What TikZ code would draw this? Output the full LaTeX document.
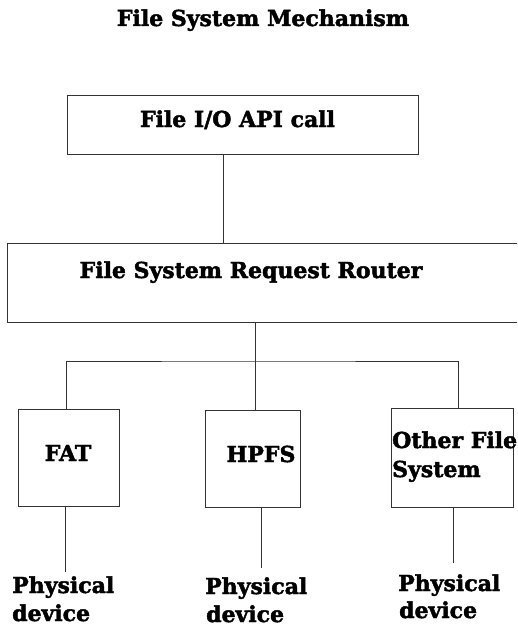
\documentclass[tikz,border=0pt]{standalone}
\usepackage{fontspec}
\setmainfont{DejaVu Serif}[BoldFeatures={FakeBold=2}]
\begin{document}
\begin{tikzpicture}[x=1pt,y=-1pt,
  box/.style={draw=black!80, line width=0.8pt, inner sep=0pt},
  conn/.style={draw=black!80, line width=0.8pt},
  txt/.style={font=\bfseries\fontsize{22}{29}\selectfont, inner sep=0pt}]
\clip (0,0) rectangle (517,626);
\fill[white] (0,0) rectangle (517,626);
% title
\node[txt, anchor=base] (title) at (263,26) {File System Mechanism};
% top box
\node[box, minimum width=351pt, minimum height=59pt] (top) at (242.5,124.5) {};
\node[txt, anchor=base] (toptxt) at (237.5,127) {File I/O API call};
% router
\node[box, minimum width=513pt, minimum height=79pt] (rt) at (263.5,282.5) {};
\node[txt, anchor=base] (rttxt) at (251,278) {File System Request Router};
% file systems
\node[box, minimum width=101pt, minimum height=97pt] (fat) at (68.5,457.5) {};
\node[txt, anchor=base] (fattxt) at (68,461) {FAT};
\node[box, minimum width=95pt, minimum height=97pt] (hp) at (252.5,458.5) {};
\node[txt, anchor=base] (hptxt) at (261,462) {HPFS};
\node[box, minimum width=122pt, minimum height=99pt] (oth) at (452,457.5) {};
\node[txt, anchor=base west] (othtxt1) at (392,448) {Other File};
\node[txt, anchor=base west] (othtxt2) at (392,477) {System};
% junction and ends
\coordinate (j) at (255,361);
\coordinate (e1) at (65,572);
\coordinate (e2) at (261,568);
\coordinate (e3) at (453,563);
% physical device labels
\node[txt, anchor=base west] (pd1a) at (12,593) {Physical};
\node[txt, anchor=base west] (pd1b) at (12,621) {device};
\node[txt, anchor=base west] (pd2a) at (205,594) {Physical};
\node[txt, anchor=base west] (pd2b) at (206,622) {device};
\node[txt, anchor=base west] (pd3a) at (398,591) {Physical};
\node[txt, anchor=base west] (pd3b) at (399,618) {device};
% connectors
\draw[conn] (top.south -| 223,0) -- (rt.north -| 223,0);
\draw[conn] (rt.south -| 255,0) -- (j);
\draw[conn] (fat.north -| 66,0) |- (j) -| (oth.north -| 458,0);
\draw[conn] (j) -- (hp.north -| 255,0);
\draw[conn] (fat.south -| 65,0) -- (e1);
\draw[conn] (hp.south -| 261,0) -- (e2);
\draw[conn] (oth.south -| 453,0) -- (e3);
\end{tikzpicture}
\end{document}
